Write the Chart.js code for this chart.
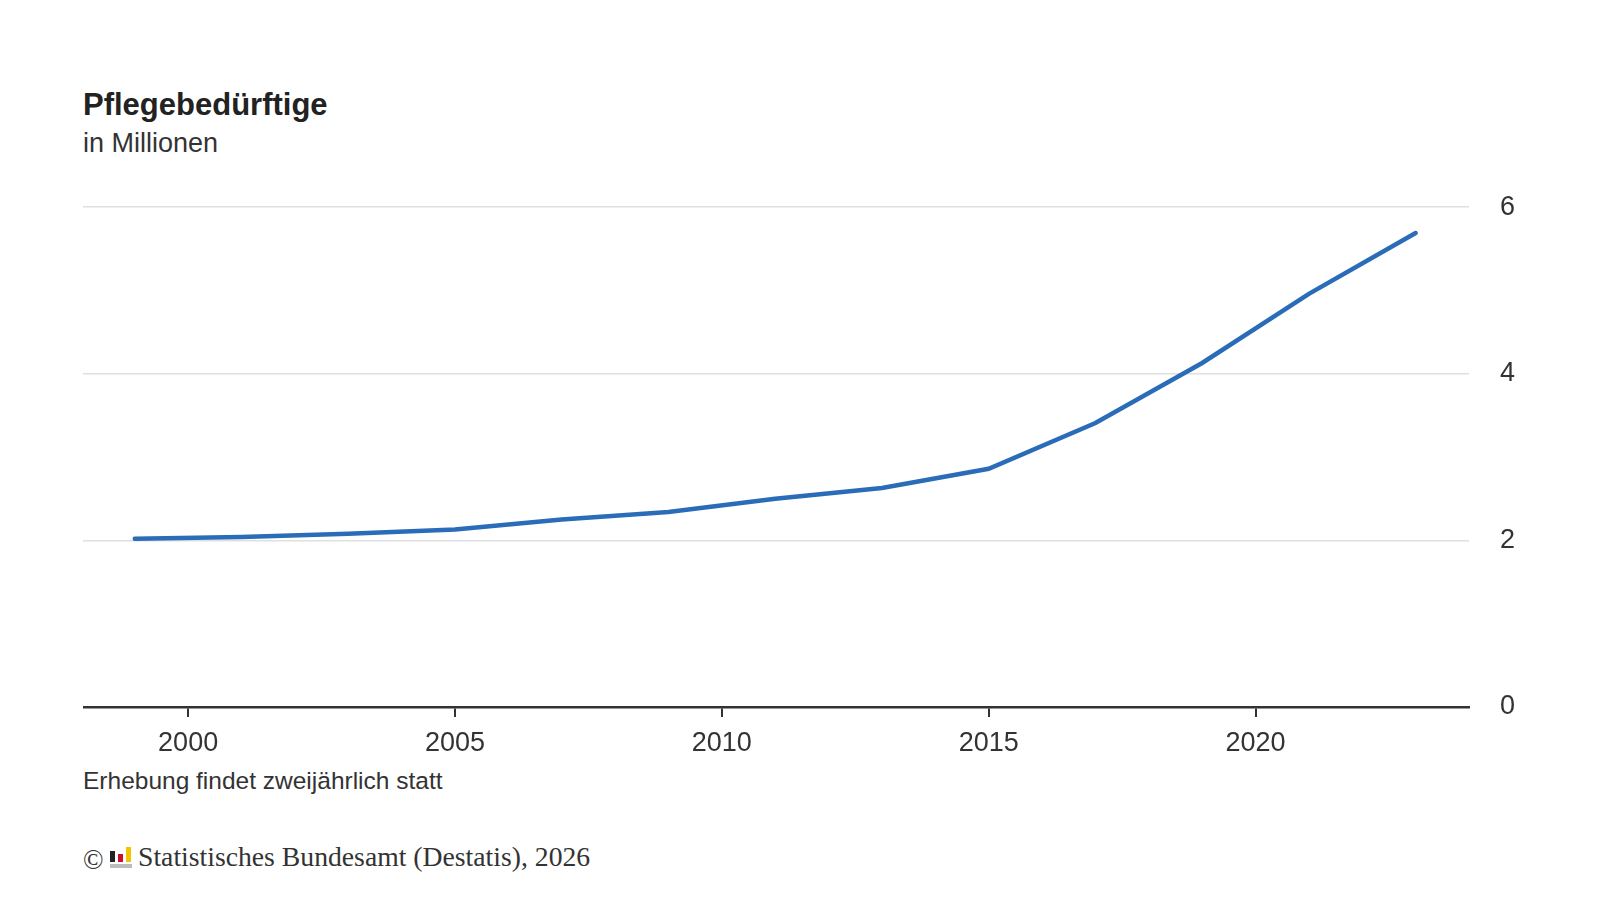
<!DOCTYPE html>
<html lang="de">
<head>
<meta charset="utf-8">
<title>Pflegebedürftige</title>
<script src="https://cdn.jsdelivr.net/npm/chart.js@4/dist/chart.umd.min.js"></script>
<style>
  html, body { margin: 0; padding: 0; background: #fff; }
  body { width: 1600px; height: 900px; position: relative; overflow: hidden;
         font-family: "Liberation Sans", Arial, sans-serif; color: #222; }
  .txt { position: absolute; line-height: 1; white-space: nowrap; }
  .title { left: 83px; top: 89px; font-size: 31px; font-weight: bold; color: #222; }
  .subtitle { left: 83px; top: 130px; font-size: 27px; color: #333; }
  .note { left: 83px; top: 769px; font-size: 24.5px; color: #333; }
  .serif { font-family: "Liberation Serif", "Times New Roman", serif; color: #333; }
  .copy { left: 83px; top: 847px; font-size: 27px; }
  .source { left: 138px; top: 843px; font-size: 27.7px; }
  .logo { position: absolute; left: 110px; top: 847px; width: 22px; height: 21px; }
  .logo span { position: absolute; }
  #wrap { position: absolute; left: 83px; top: 160px; width: 1517px; height: 607px; }
</style>
</head>
<body>
<div class="txt title">Pflegebedürftige</div>
<div class="txt subtitle">in Millionen</div>
<div id="wrap"><canvas id="chart"></canvas></div>
<div class="txt note">Erhebung findet zweijährlich statt</div>
<div class="txt serif copy">©</div>
<div class="logo">
  <span style="left:0;top:4px;width:5px;height:11px;background:#222"></span>
  <span style="left:8px;top:7px;width:5px;height:8px;background:#c8102e"></span>
  <span style="left:16px;top:0;width:5px;height:15px;background:#f5c400"></span>
  <span style="left:0;top:17px;width:22px;height:4px;background:#bdbdbd"></span>
</div>
<div class="txt serif source">Statistisches Bundesamt (Destatis), 2026</div>
<script>
const jahre = [1999, 2001, 2003, 2005, 2007, 2009, 2011, 2013, 2015, 2017, 2019, 2021, 2023];
const pflegebeduerftige = [2.02, 2.04, 2.08, 2.13, 2.25, 2.34, 2.50, 2.63, 2.86, 3.41, 4.13, 4.96, 5.69];
const xTicks = [2000, 2005, 2010, 2015, 2020];
const yTicks = [0, 2, 4, 6];

const punkte = jahre.map((j, i) => ({ x: j, y: pflegebeduerftige[i] }));
const schrift = '"Liberation Sans", Arial, sans-serif';

new Chart(document.getElementById('chart'), {
    type: 'line',
    data: {
        datasets: [{
            label: 'Pflegebedürftige',
            data: punkte,
            borderColor: '#2b6cb9',
            borderWidth: 4.5,
            borderCapStyle: 'round',
            pointRadius: 0,
            tension: 0,
            fill: false
        }]
    },
    options: {
        responsive: true,
        maintainAspectRatio: false,
        animation: false,
        layout: { padding: 0 },
        plugins: { legend: { display: false }, tooltip: { enabled: false } },
        scales: {
            x: {
                type: 'linear',
                min: 1998.03,
                max: 2024.0,
                afterBuildTicks: scale => { scale.ticks = xTicks.map(v => ({ value: v })); },
                afterFit: scale => { scale.height = 60; },
                border: { display: true, color: '#333', width: 2.5 },
                grid: { drawOnChartArea: false, drawTicks: true, tickLength: 10, color: '#333', lineWidth: 2 },
                ticks: {
                    padding: 10,
                    color: '#333',
                    font: { family: schrift, size: 27 },
                    callback: v => String(v)
                }
            },
            y: {
                position: 'right',
                min: 0,
                max: 6,
                afterBuildTicks: scale => { scale.ticks = yTicks.map(v => ({ value: v })); },
                afterFit: scale => { scale.width = 131; },
                border: { display: false },
                grid: { drawTicks: false, color: '#e0e0e0', lineWidth: 1.5 },
                ticks: {
                    padding: 31,
                    color: '#333',
                    font: { family: schrift, size: 27 }
                }
            }
        }
    }
});
</script>
</body>
</html>
